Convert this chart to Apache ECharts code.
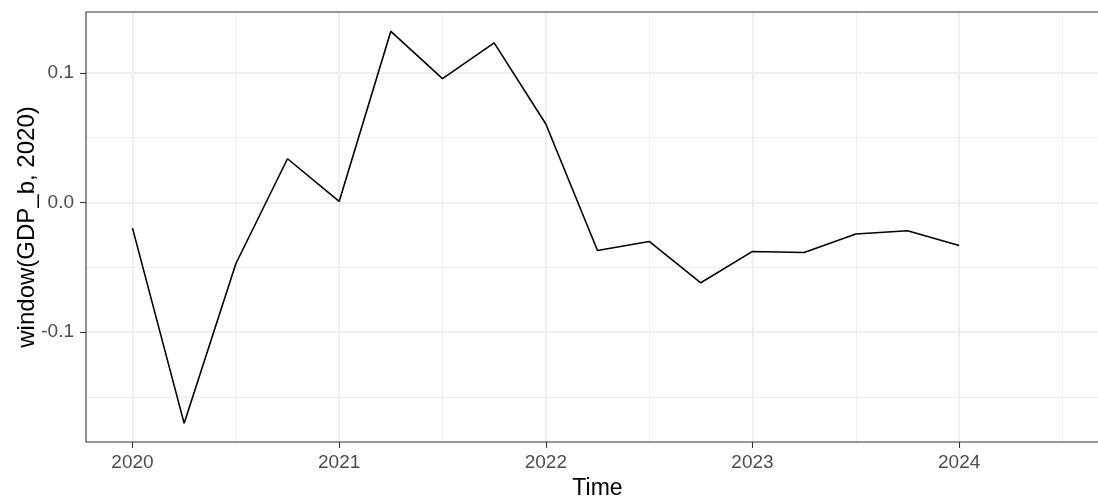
<!DOCTYPE html>
<html>
<head>
<meta charset="utf-8">
<script src="https://cdn.jsdelivr.net/npm/echarts@6/dist/echarts.min.js"></script>
<style>
html, body { margin: 0; padding: 0; background: #fff; }
#chart { width: 1098px; height: 500px; }
</style>
</head>
<body>
<div id="chart"></div>
<script>
// quarterly series, window(GDP_b, 2020)
const quarters = [2020, 2020.25, 2020.5, 2020.75, 2021, 2021.25, 2021.5, 2021.75,
                  2022, 2022.25, 2022.5, 2022.75, 2023, 2023.25, 2023.5, 2023.75, 2024];
const gdpValues = [-0.0198, -0.1704, -0.0473, 0.0337, 0.0008, 0.1320, 0.0955, 0.1231,
                   0.0605, -0.0371, -0.0301, -0.0620, -0.0378, -0.0386, -0.0244, -0.0219, -0.0332];

// tick labels / grid positions
const xTicks = [2020, 2021, 2022, 2023, 2024];
const xMinorTicks = [2020.5, 2021.5, 2022.5, 2023.5, 2024.5];
const yTicks = [-0.1, 0, 0.1];
const yMinorTicks = [-0.15, -0.05, 0.05];

// panel limits (ggplot 5% expansion)
const xRange = [2019.775, 2024.725];
const yRange = [-0.1848, 0.1469];

const myChart = echarts.init(document.getElementById('chart'));

const majorLine = { color: '#ebebeb', width: 1.6, type: 'solid' };
const minorLine = { color: '#ebebeb', width: 0.8, type: 'solid' };

// full-width / full-height lines as coordinate pairs
function vLines(values, style) {
    return values.map(v => [{ coord: [v, yRange[0]], lineStyle: style }, { coord: [v, yRange[1]] }]);
}
function hLines(values, style) {
    return values.map(v => [{ coord: [xRange[0], v], lineStyle: style }, { coord: [xRange[1], v] }]);
}

const option = {
    animation: false,
    backgroundColor: '#ffffff',
    textStyle: { fontFamily: 'Liberation Sans, Arial, sans-serif' },
    grid: {
        left: 86,
        right: -11,    // panel runs past the right edge of the picture
        top: 12,
        bottom: 58,
        containLabel: false,
        outerBoundsMode: 'none',
        show: true,
        borderColor: '#333333',
        borderWidth: 1.1,
        backgroundColor: 'transparent',
        z: 5
    },
    xAxis: {
        type: 'value',
        position: 'bottom',
        min: xRange[0],
        max: xRange[1],
        name: 'Time',
        nameLocation: 'middle',
        nameGap: 35,
        nameMoveOverlap: false,
        nameTextStyle: { color: '#000000', fontSize: 23 },
        axisLine: { show: false, onZero: false },
        axisTick: {
            show: true,
            customValues: xTicks,
            length: 6,
            lineStyle: { color: '#333333', width: 1.1 }
        },
        axisLabel: {
            customValues: xTicks,
            color: '#4d4d4d',
            fontSize: 19,
            margin: 11,
            formatter: v => String(v)
        },
        splitLine: { show: false }
    },
    yAxis: {
        type: 'value',
        position: 'left',
        min: yRange[0],
        max: yRange[1],
        name: 'window(GDP_b, 2020)',
        nameLocation: 'middle',
        nameGap: 47,
        nameMoveOverlap: false,
        nameTextStyle: { color: '#000000', fontSize: 24 },
        axisLine: { show: false, onZero: false },
        axisTick: {
            show: true,
            customValues: yTicks,
            length: 6,
            lineStyle: { color: '#333333', width: 1.1 }
        },
        axisLabel: {
            customValues: yTicks,
            color: '#4d4d4d',
            fontSize: 19,
            margin: 12,
            formatter: v => v.toFixed(1)
        },
        splitLine: { show: false }
    },
    series: [
        {
            // panel grid lines
            type: 'line',
            data: [],
            z: 1,
            silent: true,
            markLine: {
                z: 1,
                silent: true,
                symbol: 'none',
                label: { show: false },
                emphasis: { disabled: true },
                data: [].concat(
                    vLines(xMinorTicks, minorLine),
                    hLines(yMinorTicks, minorLine),
                    vLines(xTicks, majorLine),
                    hLines(yTicks, majorLine)
                )
            }
        },
        {
            name: 'GDP_b',
            type: 'line',
            z: 3,
            data: quarters.map((q, i) => [q, gdpValues[i]]),
            showSymbol: false,
            symbol: 'none',
            lineStyle: { color: '#000000', width: 1.6 }
        }
    ]
};

myChart.setOption(option);
</script>
</body>
</html>
